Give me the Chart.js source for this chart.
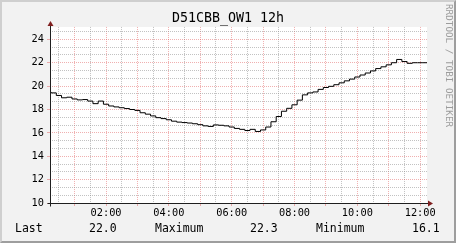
<!DOCTYPE html>
<html>
<head>
<meta charset="utf-8">
<title>D51CBB_OW1 12h</title>
<script src="https://cdn.jsdelivr.net/npm/chart.js@4.4.1/dist/chart.umd.min.js"></script>
<style>
  body { margin: 0; background: #f2f2f2; }
  #quadro { position: relative; width: 456px; height: 243px; background: #f2f2f2; overflow: hidden; }
  #grafico { position: absolute; left: 0; top: 0; }
  #moldura {
    position: absolute; left: 0; top: 0; width: 456px; height: 243px; box-sizing: border-box;
    border: 2px solid; border-color: #cfcfcf #9e9e9e #9e9e9e #cfcfcf; pointer-events: none;
  }
  .leg { position: absolute; top: 223px; font: 11.5px "DejaVu Sans Mono", monospace; line-height: 11px; color: #000; white-space: pre; }
  #marca {
    position: absolute; left: 454px; top: 4px; transform: rotate(90deg); transform-origin: 0 0;
    font: 9.3px "DejaVu Sans Mono", monospace; line-height: 9px; color: #9c9c9c; white-space: pre;
  }
</style>
</head>
<body>
<div id="quadro">
  <canvas id="grafico" width="456" height="243"></canvas>
  <div id="moldura"></div>
  <div id="marca">RRDTOOL / TOBI OETIKER</div>
  <span class="leg" style="left:15px">Last</span>
  <span class="leg" style="left:89px">22.0</span>
  <span class="leg" style="left:155px">Maximum</span>
  <span class="leg" style="left:250px">22.3</span>
  <span class="leg" style="left:316px">Minimum</span>
  <span class="leg" style="left:412px">16.1</span>
</div>
<script>
// Leituras do sensor (hora do início de cada intervalo, temperatura em °C)
const horas = [
  "00:15", "00:25", "00:35", "00:45", "00:55", "01:05", "01:15", "01:25", "01:35", "01:45",
  "01:55", "02:05", "02:15", "02:25", "02:35", "02:45", "02:55", "03:05", "03:15", "03:25",
  "03:35", "03:45", "03:55", "04:05", "04:15", "04:25", "04:35", "04:45", "04:55", "05:05",
  "05:15", "05:25", "05:35", "05:45", "05:55", "06:05", "06:15", "06:25", "06:35", "06:45",
  "06:55", "07:05", "07:15", "07:25", "07:35", "07:45", "07:55", "08:05", "08:15", "08:25",
  "08:35", "08:45", "08:55", "09:05", "09:15", "09:25", "09:35", "09:45", "09:55", "10:05",
  "10:15", "10:25", "10:35", "10:45", "10:55", "11:05", "11:15", "11:25", "11:35", "11:45",
  "11:55", "12:05", "12:15"
];
const temperaturas = [
  19.5, 19.42, 19.2, 19.0, 19.05, 18.9, 18.82, 18.85, 18.72, 18.5,
  18.72, 18.45, 18.3, 18.22, 18.15, 18.08, 18.0, 17.92, 17.72, 17.6,
  17.45, 17.3, 17.22, 17.12, 17.0, 16.92, 16.88, 16.84, 16.78, 16.7,
  16.6, 16.55, 16.68, 16.65, 16.6, 16.5, 16.38, 16.3, 16.2, 16.3,
  16.12, 16.25, 16.5, 16.95, 17.4, 17.85, 18.1, 18.4, 18.8, 19.25,
  19.42, 19.5, 19.72, 19.88, 19.98, 20.12, 20.28, 20.45, 20.6, 20.78,
  20.95, 21.12, 21.3, 21.5, 21.65, 21.82, 22.0, 22.28, 22.1, 21.95,
  22.0, 22.0, 22.0
];

// Eixos
const inicio = "00:13";
const fim = "12:13";
const linhasHora = ["01:00", "02:00", "03:00", "04:00", "05:00", "06:00",
                    "07:00", "08:00", "09:00", "10:00", "11:00", "12:00"];
const linhasMeiaHora = ["00:30", "01:30", "02:30", "03:30", "04:30", "05:30",
                        "06:30", "07:30", "08:30", "09:30", "10:30", "11:30"];
const rotulosX = ["02:00", "04:00", "06:00", "08:00", "10:00", "12:00"];
const ticksY = [10, 12, 14, 16, 18, 20, 22, 24];
const yMin = 10;
const yMax = 25.06;
const passoMenorY = 2 / 3;

function paraMinutos(h) {
  const [hh, mm] = h.split(":").map(Number);
  return hh * 60 + mm;
}
function paraHora(min) {
  const hh = Math.floor(min / 60), mm = Math.round(min % 60);
  return String(hh).padStart(2, "0") + ":" + String(mm).padStart(2, "0");
}

const fonteMono = "'DejaVu Sans Mono', monospace";
const corGrade = "rgba(143, 143, 143, 0.55)";
const corGradeMaior = "rgba(222, 79, 79, 0.45)";

// marcas do eixo x: cada meia hora (as horas cheias são as linhas maiores)
const marcasX = linhasHora.concat(linhasMeiaHora).map(paraMinutos).sort((a, b) => a - b);
const minutosHora = linhasHora.map(paraMinutos);
const ehHora = v => minutosHora.includes(v);

// marcas do eixo y: a cada 2/3 de grau, as de ticksY são as maiores
const marcasY = [];
for (let k = 0; yMin + k * passoMenorY <= yMax; k++) marcasY.push(yMin + k * passoMenorY);
const rotuloY = v => ticksY.find(t => Math.abs(t - v) < 1e-6);

// fundo branco da área do gráfico, eixos e setas no estilo rrdtool
const eixos = {
  id: "eixos",
  beforeDraw(chart) {
    const { ctx, chartArea: a } = chart;
    ctx.save();
    ctx.fillStyle = "#fff";
    ctx.fillRect(a.left, a.top, a.right - a.left, a.bottom - a.top);
    ctx.restore();
  },
  afterDraw(chart) {
    const { ctx, chartArea: a } = chart;
    const x0 = Math.round(a.left - 0.5) + 0.5;
    const y0 = Math.round(a.bottom - 0.5) + 0.5;
    ctx.save();
    ctx.strokeStyle = "#1f1f1f";
    ctx.lineWidth = 1;
    ctx.setLineDash([]);
    ctx.beginPath();
    ctx.moveTo(x0 - 3, y0);
    ctx.lineTo(a.right + 2, y0);
    ctx.moveTo(x0, y0 + 3);
    ctx.lineTo(x0, a.top - 2);
    ctx.stroke();
    ctx.fillStyle = "#801f1f";
    ctx.beginPath();
    ctx.moveTo(x0, a.top - 6);
    ctx.lineTo(x0 - 3, a.top - 1);
    ctx.lineTo(x0 + 3, a.top - 1);
    ctx.closePath();
    ctx.fill();
    ctx.beginPath();
    ctx.moveTo(a.right + 6, y0);
    ctx.lineTo(a.right + 1, y0 - 3);
    ctx.lineTo(a.right + 1, y0 + 3);
    ctx.closePath();
    ctx.fill();
    ctx.restore();
  }
};

const ctx = document.getElementById("grafico");

new Chart(ctx, {
  type: "line",
  data: {
    datasets: [{
      data: horas.map((h, i) => ({ x: paraMinutos(h), y: temperaturas[i] })),
      xAxisID: "x",
      yAxisID: "y",
      borderColor: "#000",
      borderWidth: 1,
      pointRadius: 0,
      stepped: "after",
      fill: false
    }]
  },
  options: {
    responsive: false,
    devicePixelRatio: 1,
    animation: false,
    layout: { padding: 0 },
    plugins: {
      legend: { display: false },
      tooltip: { enabled: false },
      title: {
        display: true,
        text: "D51CBB_OW1 12h",
        color: "#000",
        font: { family: fonteMono, size: 13.3, weight: "normal" },
        padding: { top: 11, bottom: 0 }
      }
    },
    scales: {
      x: {
        type: "linear",
        position: "bottom",
        min: paraMinutos(inicio),
        max: paraMinutos(fim),
        afterBuildTicks: s => { s.ticks = marcasX.map(v => ({ value: v })); },
        afterFit: s => { s.height = 40; },
        ticks: {
          autoSkip: false,
          maxRotation: 0,
          padding: 1,
          color: "#000",
          font: { family: fonteMono, size: 10.3 },
          callback: v => rotulosX.includes(paraHora(v)) ? paraHora(v) : ""
        },
        grid: {
          color: c => ehHora(c.tick.value) ? corGradeMaior : corGrade,
          tickColor: c => ehHora(c.tick.value) ? corGradeMaior : "rgba(0,0,0,0)",
          tickLength: 3
        },
        border: { display: false, dash: [1, 1] }
      },
      y: {
        type: "linear",
        position: "left",
        min: yMin,
        max: yMax,
        afterBuildTicks: s => { s.ticks = marcasY.map(v => ({ value: v })); },
        afterFit: s => { s.width = 50; },
        ticks: {
          autoSkip: false,
          padding: 3,
          color: "#000",
          font: { family: fonteMono, size: 10.3 },
          callback: v => rotuloY(v) === undefined ? "" : String(rotuloY(v))
        },
        grid: {
          color: c => rotuloY(c.tick.value) === undefined ? corGrade : corGradeMaior,
          tickColor: c => rotuloY(c.tick.value) === undefined ? "rgba(0,0,0,0)" : corGradeMaior,
          tickLength: 3
        },
        border: { display: false, dash: [1, 1] }
      },
      // eixo vazio à direita: só reserva a margem onde fica a marca d'água
      margemDireita: {
        type: "linear",
        position: "right",
        min: yMin,
        max: yMax,
        ticks: { display: false },
        grid: { display: false },
        border: { display: false },
        afterFit: s => { s.width = 29; }
      }
    }
  },
  plugins: [eixos]
});
</script>
</body>
</html>
